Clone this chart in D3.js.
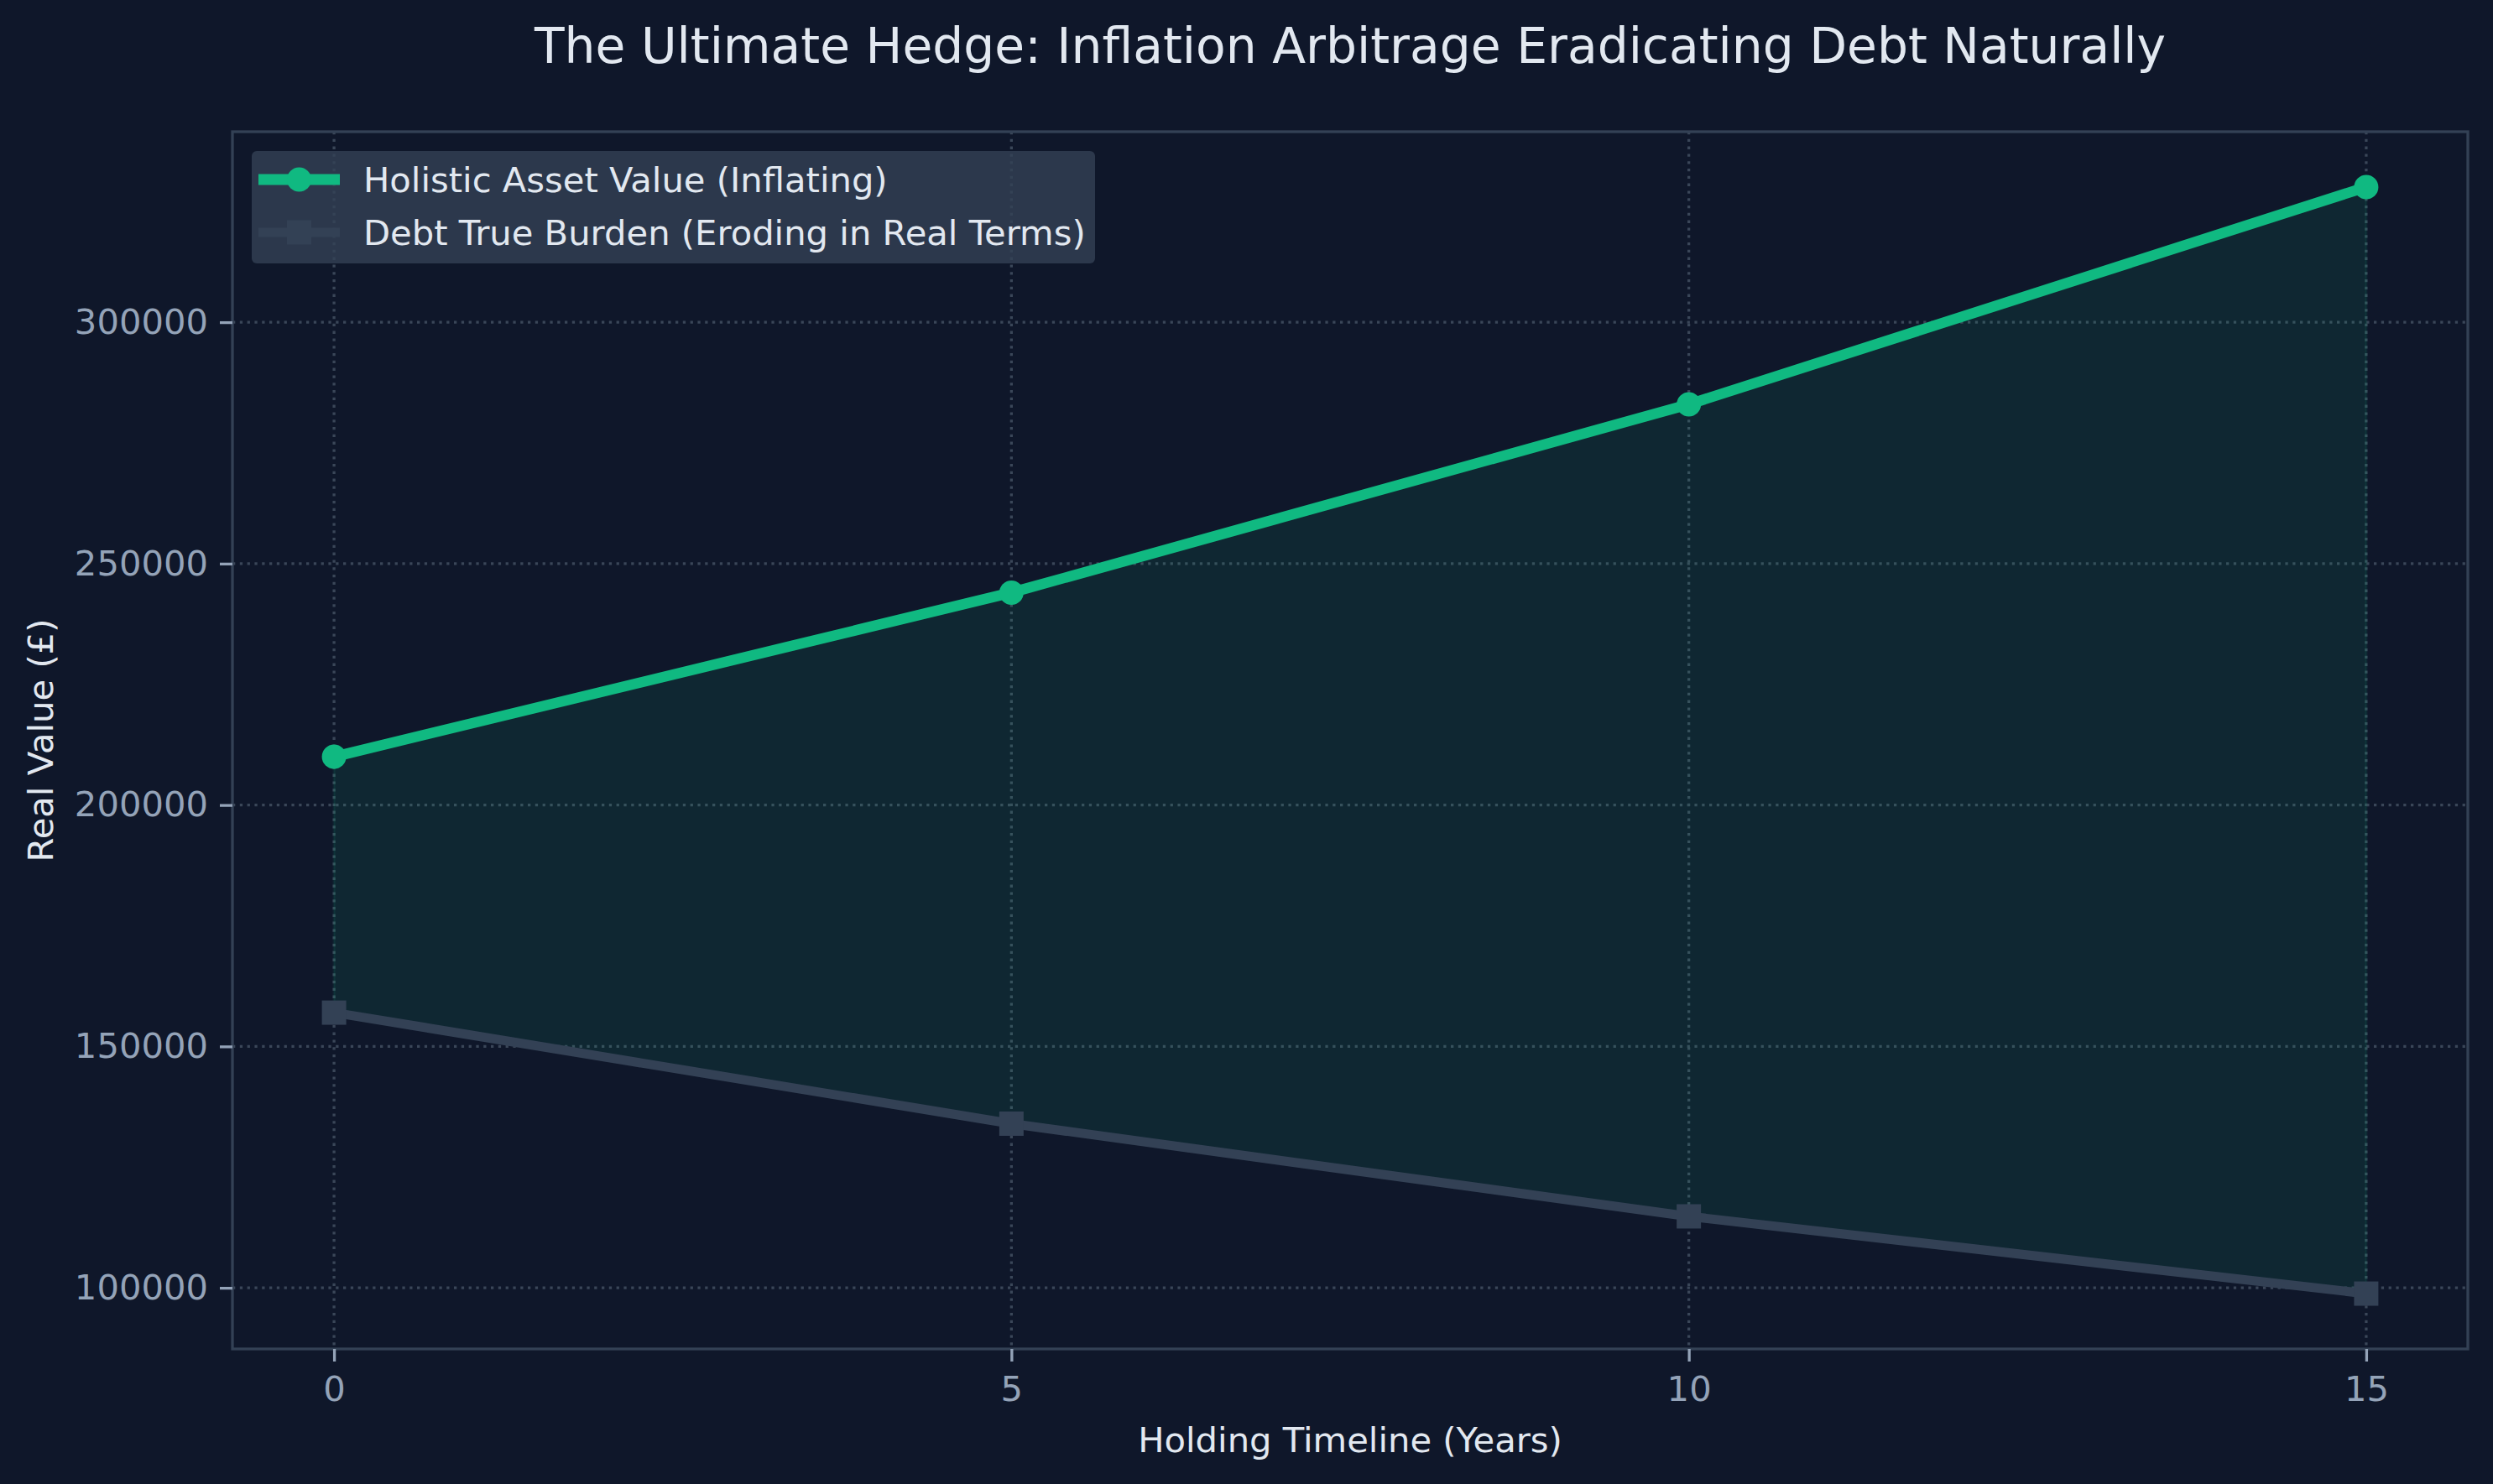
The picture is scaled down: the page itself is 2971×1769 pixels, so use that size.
<!DOCTYPE html>
<html><head><meta charset="utf-8">
<script src="https://cdn.jsdelivr.net/npm/d3@7"></script>
<style>html,body{margin:0;padding:0;background:#0f172a;}svg{display:block;}</style>
</head><body>
<script>
const years = [0, 5, 10, 15];
const assetValues = [210000, 244000, 283000, 328000];
const debtValues = [157000, 134000, 114800, 98800];
const xTicks = [0, 5, 10, 15];
const yTicks = [100000, 150000, 200000, 250000, 300000];
const seriesNames = ["Holistic Asset Value (Inflating)", "Debt True Burden (Eroding in Real Terms)"];
const titleText = "The Ultimate Hedge: Inflation Arbitrage Eradicating Debt Naturally";
const xLabel = "Holding Timeline (Years)";
const yLabel = "Real Value (£)";

const W = 2971, H = 1769;
const L = 277, R = 2941, T = 157, B = 1608;
const FONT = "'DejaVu Sans', sans-serif";

const svg = d3.select("body").append("svg").attr("width", W).attr("height", H);
svg.append("rect").attr("width", W).attr("height", H).attr("fill", "#0f172a");

const xMin = d3.min(years), xMax = d3.max(years), xr = xMax - xMin;
const allY = assetValues.concat(debtValues);
const yMin = d3.min(allY), yMax = d3.max(allY), yr = yMax - yMin;
const x = d3.scaleLinear().domain([xMin - 0.05 * xr, xMax + 0.05 * xr]).range([L, R]);
const y = d3.scaleLinear().domain([yMin - 0.05 * yr, yMax + 0.05 * yr]).range([B, T]);

const data = years.map((t, i) => ({t, a: assetValues[i], d: debtValues[i]}));

// grid
const grid = svg.append("g");
grid.selectAll(".gx").data(xTicks).enter().append("line")
  .attr("x1", d => x(d)).attr("x2", d => x(d)).attr("y1", T).attr("y2", B)
  .attr("stroke", "#3a4658").attr("stroke-width", 3.3).attr("stroke-dasharray", "3.3,5.5");
grid.selectAll(".gy").data(yTicks).enter().append("line")
  .attr("y1", d => y(d)).attr("y2", d => y(d)).attr("x1", L).attr("x2", R)
  .attr("stroke", "#3a4658").attr("stroke-width", 3.3).attr("stroke-dasharray", "3.3,5.5");

// fill between
const area = d3.area().x(d => x(d.t)).y0(d => y(d.d)).y1(d => y(d.a));
svg.append("path").datum(data).attr("d", area)
  .attr("fill", "#10b981").attr("fill-opacity", 0.1)
  .attr("stroke", "#10b981").attr("stroke-opacity", 0.1).attr("stroke-width", 3);

// debt line
const line = d3.line();
svg.append("path").datum(data.map(d => [x(d.t), y(d.d)])).attr("d", line)
  .attr("fill", "none").attr("stroke", "#334155").attr("stroke-width", 11).attr("stroke-linejoin", "round");
svg.selectAll(".sq").data(data).enter().append("rect")
  .attr("x", d => x(d.t) - 14.5).attr("y", d => y(d.d) - 14.5).attr("width", 29).attr("height", 29)
  .attr("fill", "#334155");

// asset line
svg.append("path").datum(data.map(d => [x(d.t), y(d.a)])).attr("d", line)
  .attr("fill", "none").attr("stroke", "#10b981").attr("stroke-width", 12.5).attr("stroke-linejoin", "round");
svg.selectAll(".ci").data(data).enter().append("circle")
  .attr("cx", d => x(d.t)).attr("cy", d => y(d.a)).attr("r", 14.5).attr("fill", "#10b981");

// spines
svg.append("rect").attr("x", L).attr("y", T).attr("width", R - L).attr("height", B - T)
  .attr("fill", "none").attr("stroke", "#334155").attr("stroke-width", 3.3);

// axes
const xAxis = svg.append("g").attr("transform", `translate(0,${B})`)
  .call(d3.axisBottom(x).tickValues(xTicks).tickFormat(d3.format("d")).tickSize(15).tickPadding(17));
const yAxis = svg.append("g").attr("transform", `translate(${L},0)`)
  .call(d3.axisLeft(y).tickValues(yTicks).tickFormat(d3.format("d")).tickSize(15).tickPadding(14));
[xAxis, yAxis].forEach(g => {
  g.select(".domain").remove();
  g.selectAll(".tick line").attr("stroke", "#94a3b8").attr("stroke-width", 3.3);
  g.selectAll(".tick text").attr("fill", "#94a3b8").style("font-family", FONT).style("font-size", "41.7px");
});

// labels
svg.append("text").attr("x", (L + R) / 2).attr("y", 1731).attr("text-anchor", "middle")
  .attr("fill", "#e2e8f0").style("font-family", FONT).style("font-size", "41.7px").text(xLabel);
svg.append("text").attr("transform", `translate(63,${(T + B) / 2}) rotate(-90)`).attr("text-anchor", "middle")
  .attr("fill", "#e2e8f0").style("font-family", FONT).style("font-size", "41.7px").text(yLabel);
svg.append("text").attr("x", (L + R) / 2).attr("y", 75).attr("text-anchor", "middle")
  .attr("fill", "#e2e8f0").style("font-family", FONT).style("font-size", "58.3px").text(titleText);

// legend
const lg = svg.append("g");
lg.append("rect").attr("x", 300).attr("y", 180).attr("width", 1005).attr("height", 134).attr("rx", 6)
  .attr("fill", "#334155").attr("fill-opacity", 0.8);
const rows = [
  {name: seriesNames[0], color: "#10b981", w: 13, shape: "circle", yy: 214},
  {name: seriesNames[1], color: "#334155", w: 11, shape: "square", yy: 277}
];
rows.forEach(r => {
  lg.append("line").attr("x1", 308).attr("x2", 405).attr("y1", r.yy).attr("y2", r.yy)
    .attr("stroke", r.color).attr("stroke-width", r.w);
  if (r.shape === "circle") lg.append("circle").attr("cx", 356.5).attr("cy", r.yy).attr("r", 14.5).attr("fill", r.color);
  else lg.append("rect").attr("x", 342).attr("y", r.yy - 14.5).attr("width", 29).attr("height", 29).attr("fill", r.color);
  lg.append("text").attr("x", 433).attr("y", r.yy).attr("dy", "0.35em").attr("fill", "#e2e8f0")
    .style("font-family", FONT).style("font-size", "41.7px").text(r.name);
});
</script>
</body></html>
